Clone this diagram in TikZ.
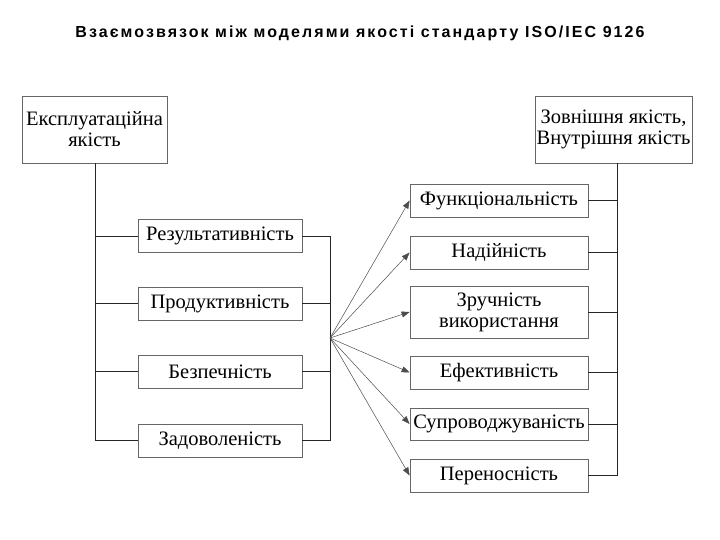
\documentclass[tikz,border=0pt]{standalone}
\usepackage{fontspec}
\setmainfont{Liberation Serif}
\newfontfamily\titlefont[LetterSpace=13]{Liberation Sans}
\usetikzlibrary{arrows.meta}
\begin{document}
\begin{tikzpicture}[x=1pt,y=-1pt,
  bx/.style={draw=black!60,line width=0.8pt,fill=white,inner sep=0pt,font=\fontsize{20.5}{21}\selectfont,align=center},
  ln/.style={line width=0.9pt,black!85},
  ar/.style={line width=0.5pt,black!70,-{Triangle[length=8pt,width=6pt]}}]
\useasboundingbox (0,0) rectangle (720,540);
\node[font=\titlefont\bfseries\fontsize{16}{17}\selectfont] (t) at (360,33) {Взаємозвязок між моделями якості стандарту ISO/IEC 9126};
\node[bx,minimum width=145pt,minimum height=67pt] (op) at (94.5,129.5) {Експлуатаційна\\якість};
\node[bx,minimum width=157pt,minimum height=67pt] (ex) at (613.5,129.5) {Зовнішня якість,\\Внутрішня якість};
\foreach \n/\y/\t in {l1/236/Результативність,l2/303.5/Продуктивність,l3/371.5/Безпечність,l4/440.5/Задоволеність}
  \node[bx,minimum width=164pt,minimum height=33pt] (\n) at (220,\y) {\t};
\foreach \n/\y/\h/\t in {r1/200.5/33/Функціональність,r2/252.5/33/Надійність,r4/372.5/33/Ефективність,r5/424/32/Супроводжуваність,r6/475.5/33/Переносність}
  \node[bx,minimum width=178pt,minimum height=\h pt] (\n) at (499,\y) {\t};
\node[bx,minimum width=178pt,minimum height=52pt] (r3) at (499,312) {Зручність\\використання};
\coordinate (lt) at (95,163);
\coordinate (lb) at (95,440.5);
\draw[ln] (lt) -- (lb);
\foreach \n in {l1,l2,l3,l4} \draw[ln] (\n.west) -- (95,0 |- \n.west);
\coordinate (mt) at (330,236);
\coordinate (mb) at (330,440.5);
\coordinate (f) at (330,338);
\draw[ln] (mt) -- (mb);
\foreach \n in {l1,l2,l3,l4} \draw[ln] (\n.east) -- (330,0 |- \n.east);
\foreach \n in {r1,r2,r3,r4,r5,r6} \draw[ar] (f) -- (\n.west);
\coordinate (rt) at (617,163);
\coordinate (rb) at (617,475.5);
\draw[ln] (rt) -- (rb);
\foreach \n in {r1,r2,r3,r4,r5,r6} \draw[ln] (\n.east) -- (617,0 |- \n.east);
\end{tikzpicture}
\end{document}
